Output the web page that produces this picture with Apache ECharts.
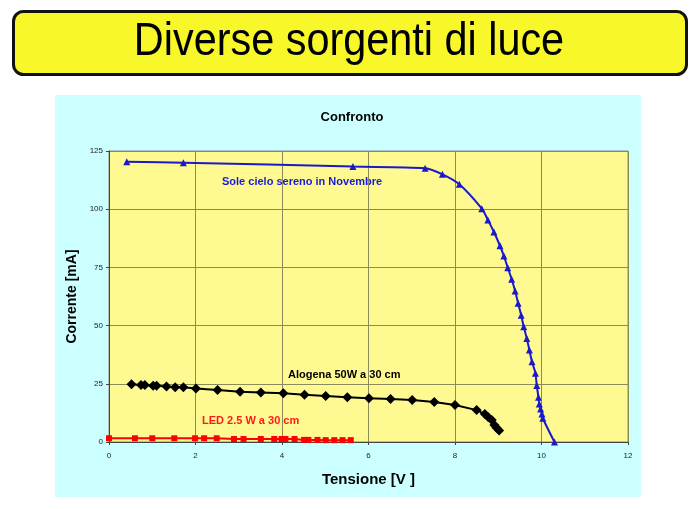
<!DOCTYPE html>
<html><head><meta charset="utf-8">
<script src="https://cdn.jsdelivr.net/npm/echarts@6/dist/echarts.min.js"></script>
<style>html,body{margin:0;padding:0;background:#fff}#c{width:697px;height:509px}</style>
</head><body><div id="c"></div>
<script>
const title = "Diverse sorgenti di luce";
const chartTitle = "Confronto";
const xName = "Tensione [V ]";
const yName = "Corrente [mA]";
const xTicks = [0, 2, 4, 6, 8, 10, 12];
const yTicks = [0, 25, 50, 75, 100, 125];

const soleV = [0.41,1.72,5.64,7.31,7.71,8.10,8.62,8.76,8.90,9.04,9.13,9.22,9.31,9.39,9.46,9.53,9.59,9.66,9.72,9.78,9.86,9.89,9.93,9.95,9.98,10.01,10.03,10.30];
const soleI = [120.4,120.0,118.3,117.6,115.0,110.7,100.2,95.4,90.2,84.3,79.9,74.9,69.9,64.9,59.6,54.4,49.5,44.5,39.5,34.5,29.5,24.3,19.2,16.3,14.2,12.0,10.2,0];

const alogV = [0.52,0.74,0.83,1.02,1.10,1.33,1.53,1.72,2.01,2.51,3.03,3.51,4.03,4.52,5.01,5.51,6.01,6.51,7.01,7.52,8.00,8.50,8.69,8.77,8.85,8.91,8.96,9.02];
const alogI = [24.8,24.5,24.5,24.2,24.2,23.8,23.5,23.5,23.0,22.3,21.6,21.3,20.9,20.3,19.8,19.2,18.8,18.5,18.0,17.2,15.9,13.7,12.0,10.6,9.5,7.3,6.1,4.9];

const ledV = [0.0,0.60,1.0,1.51,1.99,2.20,2.49,2.89,3.11,3.51,3.82,3.99,4.08,4.29,4.51,4.61,4.82,5.01,5.21,5.40,5.59];
const ledI = [1.6,1.6,1.6,1.6,1.6,1.6,1.6,1.3,1.3,1.3,1.3,1.3,1.3,1.3,0.9,0.9,0.9,0.8,0.8,0.8,0.8];

const labels = [
  {text:"Sole cielo sereno in Novembre", color:"#1a1adb"},
  {text:"Alogena 50W a 30 cm", color:"#000000"},
  {text:"LED 2.5 W a 30 cm", color:"#ff1a1a"}
];

const zip = (a,b)=>a.map((v,i)=>[v,b[i]]);
const chart = echarts.init(document.getElementById('c'), null, {renderer:'canvas'});
const F = 'Liberation Sans, Arial, sans-serif';
chart.setOption({
  backgroundColor:'#ffffff',
  animation:false,
  graphic:[
    {type:'rect', left:55, top:95, shape:{width:586, height:402}, style:{fill:'#ccffff'}, z:-10},
    {type:'rect', left:12, top:10, shape:{width:673, height:63, r:10}, style:{fill:'#f7f72a', stroke:'#111', lineWidth:3}},
    {type:'text', x:349, y:42, scaleX:0.9, style:{text:title, x:0, y:0, align:'center', verticalAlign:'middle', font:'46px '+F, fill:'#000'}},
    {type:'text', left:222, top:176, style:{text:labels[0].text, font:'bold 11px '+F, fill:labels[0].color}},
    {type:'text', left:288, top:369, style:{text:labels[1].text, font:'bold 11px '+F, fill:labels[1].color}},
    {type:'text', left:202, top:415, style:{text:labels[2].text, font:'bold 11px '+F, fill:labels[2].color}}
  ],
  title:{text:chartTitle, left:347, textAlign:'center', top:106, textStyle:{fontSize:13, fontWeight:'bold', fontFamily:F, color:'#000'}},
  grid:{left:109, right:69, top:151, bottom:67, show:true, backgroundColor:'#fff991', borderColor:'#888', borderWidth:1},
  xAxis:{type:'value', min:xTicks[0], max:xTicks[xTicks.length-1], interval:2,
    name:xName, nameLocation:'middle', nameGap:30, nameTextStyle:{fontSize:15, fontWeight:'bold', fontFamily:F, color:'#000'},
    axisLine:{show:true, onZero:false, lineStyle:{color:'#444'}}, axisTick:{show:true, length:3, lineStyle:{color:'#444'}},
    axisLabel:{fontSize:8, color:'#222', fontFamily:F, margin:10},
    splitLine:{show:true, lineStyle:{color:'#8a8a5a', width:1}}},
  yAxis:{type:'value', min:yTicks[0], max:yTicks[yTicks.length-1], interval:25,
    name:yName, nameLocation:'middle', nameGap:28, nameTextStyle:{fontSize:14, fontWeight:'bold', fontFamily:F, color:'#000'},
    axisLine:{show:true, onZero:false, lineStyle:{color:'#444'}}, axisTick:{show:true, length:3, lineStyle:{color:'#444'}},
    axisLabel:{fontSize:8, color:'#222', fontFamily:F, margin:6},
    splitLine:{show:true, lineStyle:{color:'#8a8a5a', width:1}}},
  series:[
    {type:'line', data:zip(soleV,soleI), smooth:0.3, symbol:'triangle', symbolSize:7,
      lineStyle:{color:'#1a1acc', width:2}, itemStyle:{color:'#1a1acc'}},
    {type:'line', data:zip(alogV,alogI), symbol:'diamond', symbolSize:10,
      lineStyle:{color:'#000', width:2}, itemStyle:{color:'#000'}},
    {type:'line', data:zip(ledV,ledI), symbol:'rect', symbolSize:6,
      lineStyle:{color:'#ff0000', width:2}, itemStyle:{color:'#ff0000'}}
  ]
});
</script></body></html>
